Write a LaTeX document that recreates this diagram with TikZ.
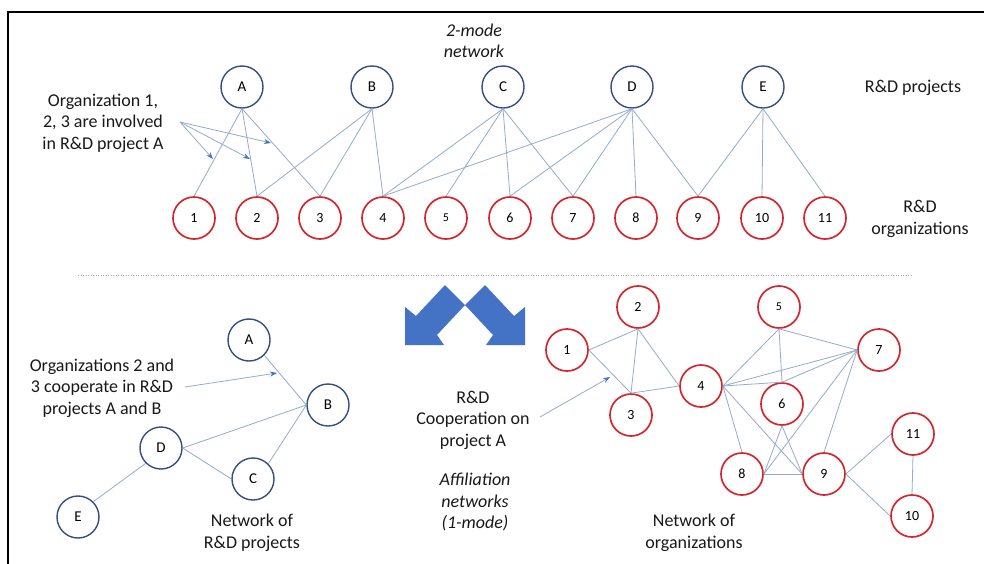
\documentclass[tikz,border=0pt]{standalone}
\usepackage{fontspec}
\setmainfont{Carlito}
\usetikzlibrary{arrows.meta}
\definecolor{projblue}{RGB}{52,78,128}
\definecolor{orgred}{RGB}{208,40,46}
\definecolor{edgeblue}{RGB}{150,170,205}
\definecolor{ptrblue}{RGB}{68,114,196}
\definecolor{bigblue}{RGB}{68,114,196}
\begin{document}
\begin{tikzpicture}[x=1pt,y=-1pt,
  proj/.style={circle, draw=projblue, line width=1.4pt, minimum size=42pt, inner sep=0pt, font=\fontsize{15}{17}\selectfont},
  org/.style={circle, draw=orgred, line width=1.7pt, minimum size=42pt, inner sep=0pt, font=\fontsize{14}{16}\selectfont},
  edge/.style={draw=edgeblue, line width=0.8pt},
  ptr/.style={draw=edgeblue, line width=0.8pt, -{Stealth[length=7pt,width=5pt,color=ptrblue,fill=ptrblue]}},
  lbl/.style={align=center, font=\fontsize{18}{21.5}\selectfont, inner sep=0pt, text=black!90},
  small/.style={font=\fontsize{12}{14}\selectfont}
]
\clip (0,0) rectangle (984,563);
\fill[white] (0,0) rectangle (984,563);
% frame
\draw[line width=2pt] (8,600) -- (8,12) -- (1000,12);

% ---------- 2-mode network ----------
\node[proj] (A) at (242,87) {A};
\node[proj] (B) at (372,87) {B};
\node[proj] (C) at (503,87) {C};
\node[proj] (D) at (632,87) {D};
\node[proj] (E) at (763,87) {E};
\foreach \n/\x in {1/194,2/257,3/320,4/383,6/510,7/573,8/636,9/698,10/762,11/825}
  \node[org] (o\n) at (\x,218) {\n};
\node[org,small] (o5) at (446,218) {5};
\foreach \p/\o in {A/1,A/2,A/3,B/2,B/3,B/4,C/4,C/5,C/6,C/7,D/4,D/6,D/7,D/8,D/9,E/9,E/10,E/11}
  \draw[edge] (\p.south) -- (o\o.north);

\node[lbl] (t1) at (103,123) {Organization 1,\\2, 3 are involved\\in R\&D project A};
\coordinate (s1) at (180,122);
\coordinate (e1) at (213,159);
\coordinate (e2) at (250,159);
\coordinate (e3) at (271,143);
\draw[ptr] (s1) -- (e1);
\draw[ptr] (s1) -- (e2);
\draw[ptr] (s1) -- (e3);

\node[lbl,font=\fontsize{18}{21.5}\selectfont\itshape] (tmode) at (474,41) {2-mode\\network};
\node[lbl] (tproj) at (913,88) {R\&D projects};
\node[lbl] (torg) at (920,219) {R\&D\\organizations};

% separator
\draw[gray!70, line width=0.8pt, dash pattern=on 1pt off 1.5pt] (78,275) -- (912,275);

% big arrows
\fill[bigblue] (405,345) -- (405,307) -- (416,316) -- (445,285) -- (465,305) -- (437,335) -- (444,345) -- cycle;
\fill[bigblue] (525,345) -- (525,307) -- (514,316) -- (485,285) -- (465,305) -- (493,335) -- (486,345) -- cycle;

% ---------- network of projects ----------
\node[proj] (pA) at (249,340) {A};
\node[proj] (pB) at (328,405) {B};
\node[proj] (pD) at (161,448) {D};
\node[proj] (pC) at (253,479) {C};
\node[proj] (pE) at (78,517) {E};
\draw[edge] (pA.south east) -- (pB.west);
\draw[edge] (pD.east) -- (pB.west);
\draw[edge] (pC.north east) -- (pB.west);
\draw[edge] (pD.east) -- (pC.west);
\draw[edge] (pE.north east) -- (pD.south west);

\node[lbl] (t2) at (102,388) {Organizations 2 and\\3 cooperate in R\&D\\projects A and B};
\coordinate (s2) at (185,387);
\coordinate (e4) at (277,373);
\draw[ptr] (s2) -- (e4);
\node[lbl] (tnp) at (252,533) {Network of\\R\&D projects};

% middle texts
\node[lbl] (tcoop) at (473,420) {R\&D\\Cooperation on\\project A};
\coordinate (s3) at (540,417);
\coordinate (e5) at (610,377);
\draw[ptr] (s3) -- (e5);
\node[lbl,font=\fontsize{18}{21.5}\selectfont\itshape] (taff) at (475,502) {Affiliation\\networks\\(1-mode)};

% ---------- network of organizations ----------
\node[org] (n1) at (567,350) {1};
\node[org] (n2) at (638,307) {2};
\node[org] (n3) at (631,415) {3};
\node[org] (n4) at (701,386) {4};
\node[org,small] (n5) at (779,307) {5};
\node[org] (n6) at (782,404) {6};
\node[org] (n7) at (879,350) {7};
\node[org] (n8) at (742,474) {8};
\node[org] (n9) at (824,474) {9};
\node[org] (n11) at (913,434) {11};
\node[org] (n10) at (912,516) {10};
\draw[edge] (n1.east) -- (n2.south);
\draw[edge] (n1.east) -- (n3.north);
\draw[edge] (n2.south) -- (n3.north);
\draw[edge] (n2.south) -- (n4.west);
\draw[edge] (n3.north) -- (n4.west);
\draw[edge] (n4.east) -- (n5.south);
\draw[edge] (n4.east) -- (n6.north);
\draw[edge] (n4.east) -- (n7.west);
\draw[edge] (n4.east) -- (n8.north);
\draw[edge] (n4.east) -- (n9.west);
\draw[edge] (n5.south) -- (n6.north);
\draw[edge] (n5.south) -- (n7.west);
\draw[edge] (n6.north) -- (n7.west);
\draw[edge] (n6.south) -- (n8.east);
\draw[edge] (n6.south) -- (n9.west);
\draw[edge] (n7.west) -- (n8.east);
\draw[edge] (n7.west) -- (n9.north);
\draw[edge] (n8.east) -- (n9.west);
\draw[edge] (n9.east) -- (n11.west);
\draw[edge] (n9.east) -- (n10.west);
\draw[edge] (n11.south) -- (n10.north);
\node[lbl] (tno) at (694,533) {Network of\\organizations};
\end{tikzpicture}
\end{document}
